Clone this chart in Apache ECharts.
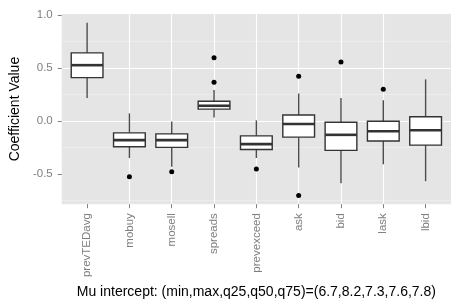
<!DOCTYPE html>
<html>
<head>
<meta charset="utf-8">
<script src="https://cdn.jsdelivr.net/npm/echarts@6/dist/echarts.min.js"></script>
<style>html,body{margin:0;padding:0;background:#fff}#c{width:465px;height:304px}</style>
</head>
<body>
<div id="c"></div>
<script>
const categories = ['prevTEDavg','mobuy','mosell','spreads','prevexceed','ask','bid','lask','lbid'];
// [lower whisker, q1, median, q3, upper whisker]
const boxStats = [
  [0.218, 0.410, 0.528, 0.644, 0.930],
  [-0.350, -0.244, -0.181, -0.112, 0.072],
  [-0.434, -0.250, -0.181, -0.122, -0.006],
  [0.034, 0.112, 0.144, 0.187, 0.293],
  [-0.350, -0.269, -0.219, -0.141, 0.006],
  [-0.440, -0.153, -0.028, 0.056, 0.260],
  [-0.590, -0.278, -0.131, -0.012, 0.218],
  [-0.410, -0.190, -0.097, -0.003, 0.197],
  [-0.569, -0.228, -0.087, 0.040, 0.394]
];
// [category index, value]
const outliers = [
  [1, -0.528],
  [2, -0.481],
  [3, 0.597], [3, 0.366],
  [4, -0.453],
  [5, 0.422], [5, -0.706],
  [6, 0.559],
  [7, 0.300]
];
const yTicks = [-0.5, 0, 0.5, 1.0];
const yTitle = 'Coefficient Value';
const xTitle = 'Mu intercept: (min,max,q25,q50,q75)=(6.7,8.2,7.3,7.6,7.8)';

const font = 'Liberation Sans, Arial, Helvetica, sans-serif';
const chart = echarts.init(document.getElementById('c'), null, {renderer: 'canvas'});

const catPositions = categories.map((c, i) => i);
const boxData = boxStats.map((s, i) => [i].concat(s));

chart.setOption({
  animation: false,
  backgroundColor: '#ffffff',
  grid: {left: 55, right: 14, top: 14, bottom: 98, show: true, backgroundColor: '#e5e5e5', borderWidth: 0},
  xAxis: {
    type: 'value',
    min: -0.6,
    max: categories.length - 1 + 0.6,
    splitNumber: 9,
    axisLine: {show: false, onZero: false},
    axisTick: {show: true, length: 4, customValues: catPositions, lineStyle: {color: '#7f7f7f', width: 1}},
    axisLabel: {rotate: 90, margin: 9, fontSize: 11.5, color: '#7f7f7f', fontFamily: font,
      customValues: catPositions, formatter: v => categories[Math.round(v)] || ''},
    splitLine: {show: true, showMinLine: false, showMaxLine: false, lineStyle: {color: '#ffffff', width: 1.1}},
    name: xTitle,
    nameLocation: 'middle',
    nameGap: 73,
    nameTextStyle: {fontSize: 14, color: '#000', fontFamily: font}
  },
  yAxis: {
    type: 'value',
    min: -0.787,
    max: 1.012,
    splitNumber: 4,
    axisLine: {show: false, onZero: false},
    axisTick: {show: true, length: 4, customValues: yTicks, lineStyle: {color: '#7f7f7f', width: 1}},
    axisLabel: {margin: 9, fontSize: 11.5, color: '#7f7f7f', fontFamily: font, customValues: yTicks,
      formatter: v => (Math.abs(v) < 1e-9 ? 0 : v).toFixed(1)},
    splitLine: {show: true, showMinLine: false, showMaxLine: false, lineStyle: {color: '#ffffff', width: 1.1}},
    minorTick: {show: false, splitNumber: 2},
    minorSplitLine: {show: true, lineStyle: {color: '#f2f2f2', width: 0.6}},
    name: yTitle,
    nameLocation: 'middle',
    nameRotate: 90,
    nameGap: 28,
    nameTextStyle: {fontSize: 14, color: '#000', fontFamily: font}
  },
  series: [
    {
      type: 'custom',
      data: boxData,
      encode: {x: 0, y: [1, 2, 3, 4, 5]},
      renderItem: function (params, api) {
        const x = api.value(0);
        const pLo = api.coord([x, api.value(1)]);
        const pQ1 = api.coord([x, api.value(2)]);
        const pMed = api.coord([x, api.value(3)]);
        const pQ3 = api.coord([x, api.value(4)]);
        const pHi = api.coord([x, api.value(5)]);
        const bw = api.size([0.75, 0])[0];
        const cx = pMed[0];
        const stroke = '#333333';
        const whisker = '#4d4d4d';
        return {
          type: 'group',
          children: [
            {type: 'line', shape: {x1: cx, y1: pQ3[1], x2: cx, y2: pHi[1]}, style: {stroke: whisker, lineWidth: 1.4}},
            {type: 'line', shape: {x1: cx, y1: pQ1[1], x2: cx, y2: pLo[1]}, style: {stroke: whisker, lineWidth: 1.4}},
            {type: 'rect', shape: {x: cx - bw / 2, y: pQ3[1], width: bw, height: pQ1[1] - pQ3[1]},
              style: {fill: '#ffffff', stroke: stroke, lineWidth: 1.4}},
            {type: 'line', shape: {x1: cx - bw / 2, y1: pMed[1], x2: cx + bw / 2, y2: pMed[1]},
              style: {stroke: stroke, lineWidth: 2.6}}
          ]
        };
      }
    },
    {
      type: 'scatter',
      data: outliers,
      symbol: 'circle',
      symbolSize: 5,
      itemStyle: {color: '#000000', opacity: 1}
    }
  ]
});
</script>
</body>
</html>
